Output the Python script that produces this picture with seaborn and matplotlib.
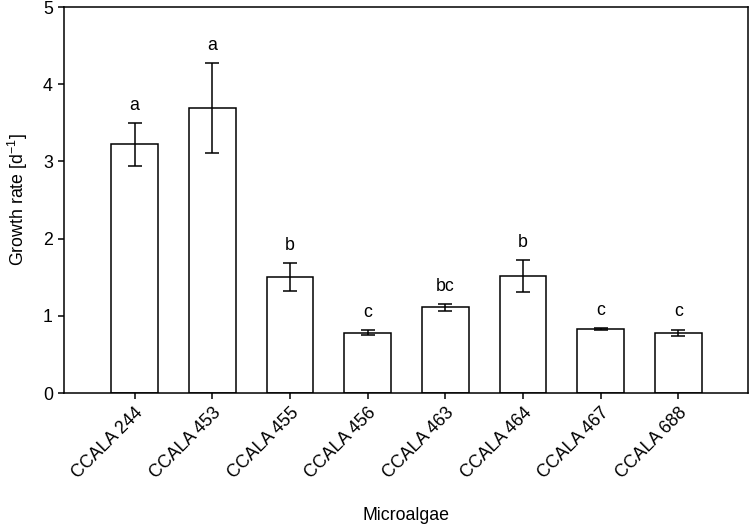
import pandas as pd
import matplotlib
matplotlib.use('Agg')
import matplotlib.pyplot as plt
import seaborn as sns

strains = ['CCALA 244', 'CCALA 453', 'CCALA 455', 'CCALA 456',
           'CCALA 463', 'CCALA 464', 'CCALA 467', 'CCALA 688']
growth = [3.22, 3.69, 1.50, 0.78, 1.11, 1.515, 0.83, 0.78]
sd = [0.28, 0.58, 0.18, 0.03, 0.045, 0.205, 0.012, 0.04]
letters = ['a', 'a', 'b', 'c', 'bc', 'b', 'c', 'c']

df = pd.DataFrame({'Microalgae': strains, 'Growth': growth, 'SD': sd, 'Group': letters})

sns.set_style('ticks', {'axes.edgecolor': 'black', 'text.color': 'black',
                        'xtick.color': 'black', 'ytick.color': 'black',
                        'axes.labelcolor': 'black'})
plt.rcParams['font.family'] = ['Liberation Sans', 'DejaVu Sans']
plt.rcParams['mathtext.fontset'] = 'custom'
plt.rcParams['mathtext.rm'] = 'Liberation Sans'
fs = 12.8

fig = plt.figure(figsize=(7.49, 5.24), dpi=100)
ax = fig.add_axes([0.0854, 0.25, 0.9126, 0.7366])

sns.barplot(data=df, x='Microalgae', y='Growth', color='white', edgecolor='black',
            linewidth=1.1, width=0.6, errorbar=None, ax=ax)
ax.errorbar(range(len(df)), df['Growth'], yerr=df['SD'], fmt='none', ecolor='black',
            elinewidth=1.1, capsize=5.2, capthick=1.1)

# Buchstaben der Signifikanzgruppen
for i, row in df.iterrows():
    ax.text(i, row['Growth'] + row['SD'] + 0.12, row['Group'], ha='center', va='bottom',
            fontsize=fs)

ax.set_ylim(0, 5)
ax.set_xlim(-0.91, 7.89)
ax.set_yticks([0, 1, 2, 3, 4, 5])
for s in ax.spines.values():
    s.set_visible(True)
    s.set_linewidth(1.1)
ax.tick_params(axis='both', direction='out', length=4.5, width=1.1, labelsize=fs)
plt.setp(ax.get_xticklabels(), rotation=45, ha='right', rotation_mode='anchor')
ax.set_xlabel('Microalgae', fontsize=fs, labelpad=18)
ax.set_ylabel('Growth rate [d$^{-1}$]', fontsize=fs, labelpad=9)

plt.savefig('out.png', dpi=100)
